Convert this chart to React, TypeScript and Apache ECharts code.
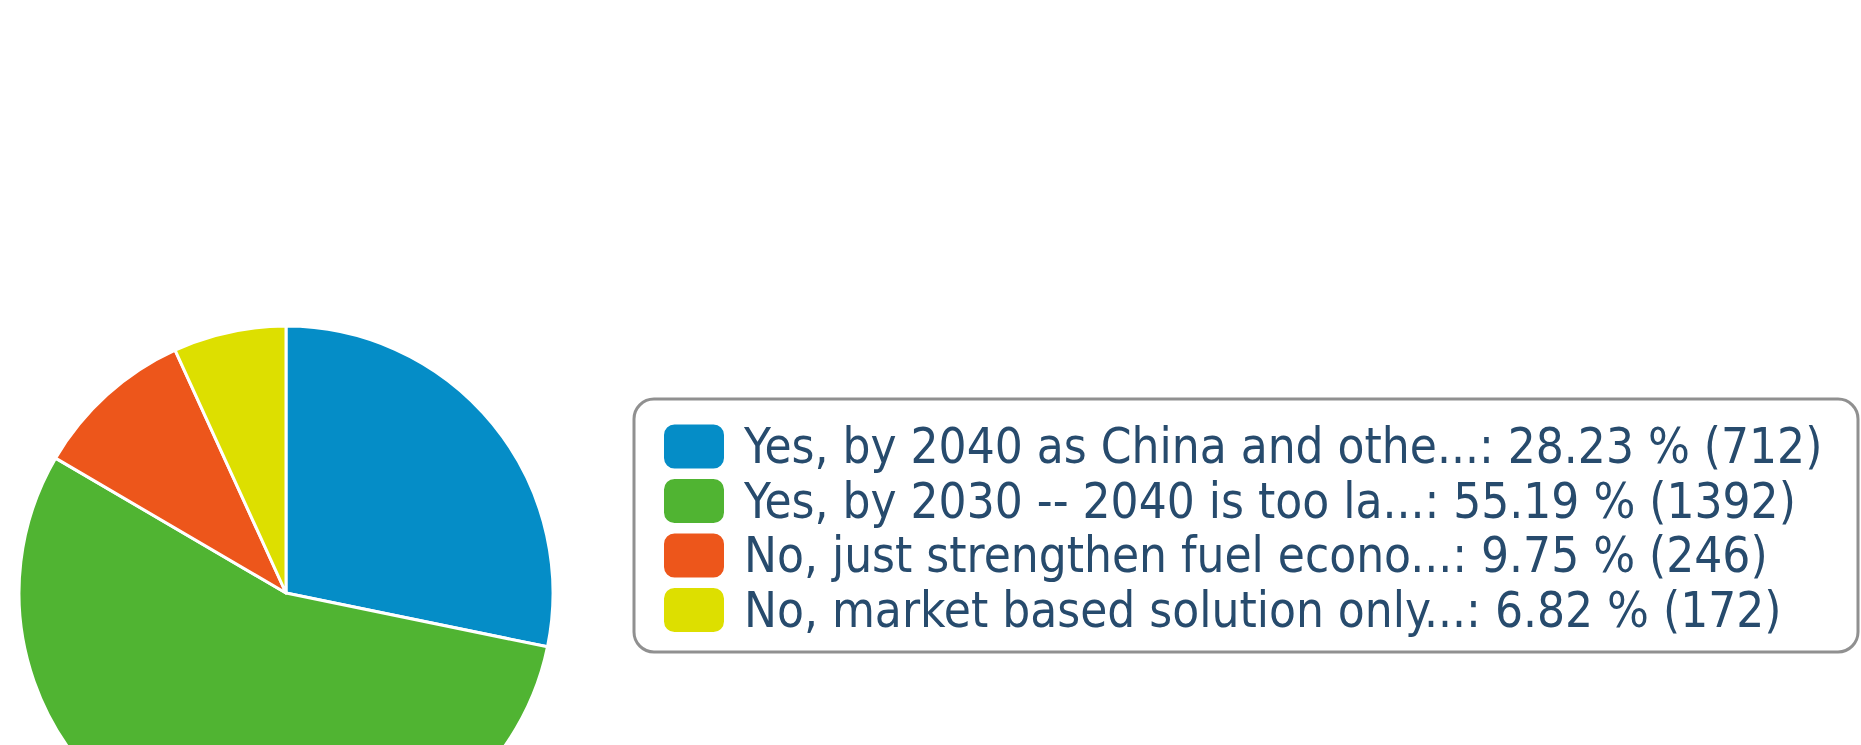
import React, { useEffect, useRef } from "react";
import * as echarts from "echarts";

const categories = [
  "Yes, by 2040 as China and othe...",
  "Yes, by 2030 -- 2040 is too la...",
  "No, just strengthen fuel econo...",
  "No, market based solution only...",
];
const votes = [712, 1392, 246, 172];
const colors = ["#058DC7", "#50B432", "#ED561B", "#DDDF00"];

const total = votes.reduce((a, b) => a + b, 0);

export default function App() {
  const ref = useRef<HTMLDivElement>(null);
  useEffect(() => {
    if (!ref.current) return;
    const chart = echarts.init(ref.current, null, { renderer: "svg" });
    const data = categories.map((name, i) => ({
      name,
      value: votes[i],
      itemStyle: { color: colors[i] },
    }));
    chart.setOption({
      animation: false,
      backgroundColor: "#ffffff",
      graphic: [
        {
          type: "rect",
          shape: { x: 634, y: 399, width: 1224, height: 253, r: 20 },
          style: { fill: "#ffffff", stroke: "#909090", lineWidth: 3 },
          z: 0,
        },
      ],
      legend: {
        orient: "vertical",
        left: 662,
        top: 422,
        padding: 0,
        itemWidth: 62,
        itemHeight: 46,
        itemGap: 5.5,
        icon: "roundRect",
        selectedMode: false,
        z: 5,
        textStyle: {
          fontFamily: "'DejaVu Sans Condensed', 'DejaVu Sans', sans-serif",
          fontSize: 49,
          lineHeight: 46,
          color: "#274b6d",
          padding: [0, 0, 0, 14],
        },
        formatter: (name: string) => {
          const i = categories.indexOf(name);
          const pct = ((votes[i] / total) * 100).toFixed(2);
          return `${name}: ${pct} % (${votes[i]})`;
        },
        data: categories,
      },
      series: [
        {
          type: "pie",
          center: [286, 593],
          radius: 267,
          startAngle: 90,
          clockwise: true,
          label: { show: false },
          labelLine: { show: false },
          itemStyle: { borderColor: "#ffffff", borderWidth: 3 },
          emphasis: { disabled: true },
          data,
        },
      ],
    });
    return () => chart.dispose();
  }, []);
  return (
    <div
      ref={ref}
      style={{ position: "absolute", left: 0, top: 0, width: 1861, height: 745 }}
    />
  );
}
